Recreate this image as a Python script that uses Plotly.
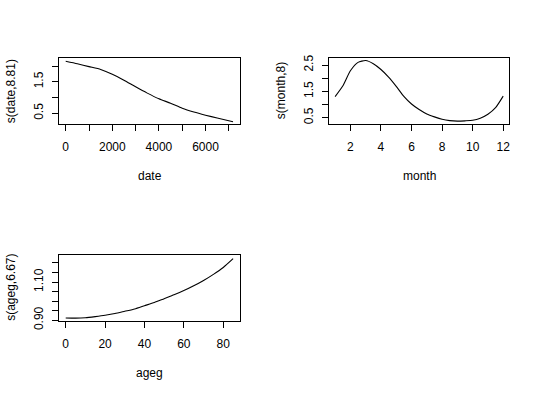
import plotly.graph_objects as go

# ---- data ----
date_x = [0, 500, 1000, 1500, 2000, 2500, 3000, 3500, 4000, 4500, 5000, 5500, 6000, 6500, 7180]
date_s = [2.15, 2.07, 1.98, 1.89, 1.74, 1.55, 1.34, 1.14, 0.96, 0.82, 0.66, 0.54, 0.44, 0.35, 0.23]

month_x = [1, 1.5, 2, 2.5, 3, 3.5, 4, 4.5, 5, 5.5, 6, 6.5, 7, 7.5, 8, 8.5, 9, 9.5, 10, 10.5, 11, 11.5, 12]
month_s = [1.30, 1.70, 2.28, 2.60, 2.67, 2.55, 2.33, 2.04, 1.69, 1.31, 1.02, 0.81, 0.64, 0.53, 0.44, 0.39,
           0.37, 0.38, 0.40, 0.48, 0.63, 0.88, 1.32]

age_x = [0, 5, 10, 15, 20, 25, 30, 35, 40, 45, 50, 55, 60, 65, 70, 75, 80, 85]
age_s = [0.912, 0.911, 0.913, 0.919, 0.926, 0.935, 0.947, 0.959, 0.976, 0.993, 1.013, 1.033, 1.055,
         1.080, 1.108, 1.140, 1.176, 1.222]

x_titles = ["date", "month", "ageg"]
y_titles = ["s(date,8.81)", "s(month,8)", "s(ageg,6.67)"]

W, H = 540, 395
FONT = "Liberation Sans, Arial, sans-serif"
FS = 12

fig = go.Figure()
line = dict(color="black", width=1.1, shape="spline", smoothing=0.6)
fig.add_trace(go.Scatter(x=date_x, y=date_s, mode="lines", line=line, xaxis="x", yaxis="y", showlegend=False))
fig.add_trace(go.Scatter(x=month_x, y=month_s, mode="lines", line=line, xaxis="x2", yaxis="y2", showlegend=False))
fig.add_trace(go.Scatter(x=age_x, y=age_s, mode="lines", line=line, xaxis="x3", yaxis="y3", showlegend=False))

def px_x(p):
    return p / W

def px_y(p):
    return 1 - p / H

# panel boxes in pixels: (left, right, top, bottom)
boxes = [(59, 240, 58.3, 124), (329, 509.3, 58.3, 124), (59, 240, 254.7, 321)]

common = dict(showline=True, mirror=True, linecolor="black", linewidth=1, ticks="outside",
              ticklen=6, tickcolor="black", tickwidth=1, showgrid=False, zeroline=False,
              automargin=False, tickfont=dict(family=FONT, size=FS, color="black"))

xaxes_cfg = [
    dict(range=[-288, 7480], tick0=0, dtick=2000, minor=dict(dtick=1000, tick0=0, ticks="outside", ticklen=6, tickcolor="black", showgrid=False)),
    dict(range=[0.6, 12.4], tick0=2, dtick=2),
    dict(range=[-3.4, 88.5], tick0=0, dtick=20),
]
yaxes_cfg = [
    dict(range=[0.16, 2.245], tick0=0.5, dtick=1, tickformat=".1f",
         minor=dict(dtick=0.5, tick0=0.5, ticks="outside", ticklen=6, tickcolor="black", showgrid=False)),
    dict(range=[0.26, 2.755], tick0=0.5, dtick=1, tickformat=".1f",
         minor=dict(dtick=0.5, tick0=0.5, ticks="outside", ticklen=6, tickcolor="black", showgrid=False)),
    dict(range=[0.896, 1.243], tick0=0.9, dtick=0.2, tickformat=".2f",
         minor=dict(dtick=0.05, tick0=0.9, ticks="outside", ticklen=6, tickcolor="black", showgrid=False)),
]

layout = dict(width=W, height=H, margin=dict(l=0, r=0, t=0, b=0, autoexpand=False),
              paper_bgcolor="white", plot_bgcolor="white",
              font=dict(family=FONT, size=FS, color="black"))
annotations = []
for i, (l, r, t, b) in enumerate(boxes):
    sx = "" if i == 0 else str(i + 1)
    xa = dict(common, domain=[px_x(l), px_x(r)], anchor="y" + sx, ticklabelstandoff=6, **xaxes_cfg[i])
    ya = dict(common, domain=[px_y(b), px_y(t)], anchor="x" + sx, tickangle=-90, ticklabelstandoff=4, **yaxes_cfg[i])
    layout["xaxis" + sx] = xa
    layout["yaxis" + sx] = ya
    cx = (l + r) / 2
    cy = (t + b) / 2
    annotations.append(dict(text=x_titles[i], x=px_x(cx), y=px_y(b + 52), xref="paper", yref="paper",
                            showarrow=False, xanchor="center", yanchor="middle",
                            font=dict(family=FONT, size=FS, color="black")))
    annotations.append(dict(text=y_titles[i], x=px_x(l - 48), y=px_y(cy), xref="paper", yref="paper",
                            showarrow=False, xanchor="center", yanchor="middle", textangle=-90,
                            font=dict(family=FONT, size=FS, color="black")))
layout["annotations"] = annotations
fig.update_layout(**layout)
fig.write_html("out.html", config={"displayModeBar": False},
               post_script="document.body.style.margin='0';document.body.style.padding='0';document.body.style.overflow='hidden';")
